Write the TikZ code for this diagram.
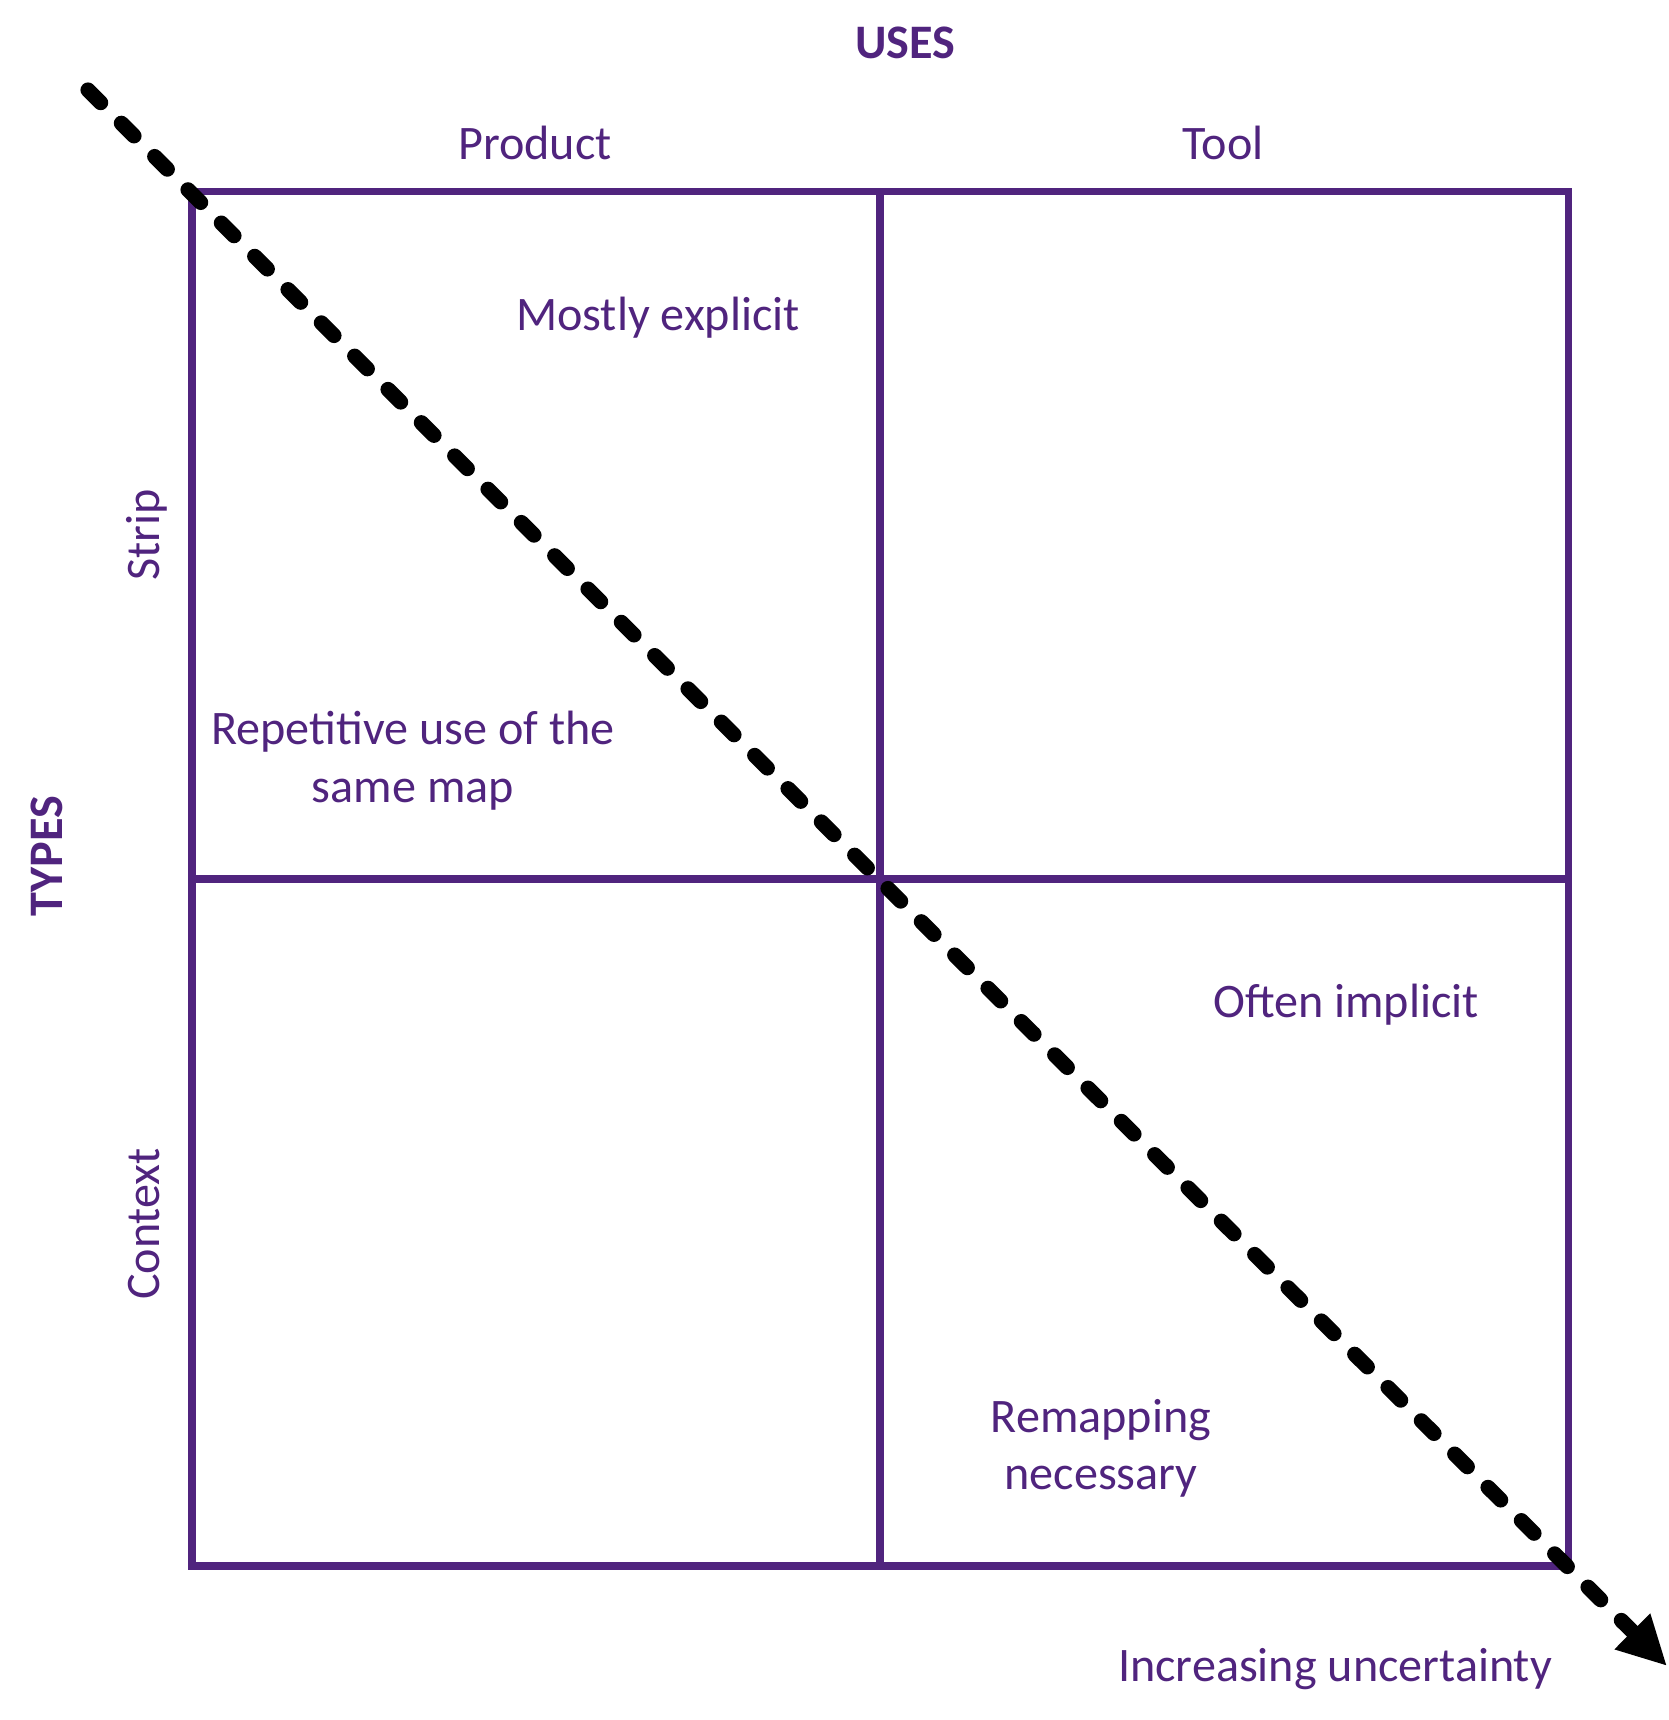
\documentclass[tikz,border=0pt]{standalone}
\usepackage{fontspec}
\setmainfont{Carlito}
\usepackage{xcolor}
\usepackage{tikz}
\usetikzlibrary{arrows.meta, positioning}
\definecolor{uviolet}{RGB}{80,36,126}

\begin{document}
\begin{tikzpicture}[
  cell/.style={draw=uviolet, line width=2pt, minimum width=6.88cm, minimum height=6.87cm, inner sep=0pt},
  lbl/.style={text=uviolet, font=\fontsize{13.7}{16.5}\selectfont, anchor=base, inner sep=0pt, align=center},
  head/.style={lbl, font=\fontsize{13.7}{16.5}\selectfont\bfseries},
  side/.style={lbl, rotate=90},
  uncert/.style={-{Triangle[length=4.9mm, width=4.7mm]}, line width=4.3pt, line cap=round, dash pattern=on 5.1pt off 8.3pt}
]
\useasboundingbox (0,0) rectangle (16.68,17.20);
% quadrants
\node[cell] (prodstrip) at (5.36,11.845) {};
\node[cell] (toolstrip) at (12.24,11.845) {};
\node[cell] (prodctx) at (5.36,4.975) {};
\node[cell] (toolctx) at (12.24,4.975) {};
% axis labels
\node[head] (uses) at (9.05,16.61) {USES};
\node[lbl] (product) at (5.35,15.60) {Product};
\node[lbl] (tool) at (12.23,15.60) {Tool};
\node[head, rotate=90] (types) at (0.62,8.64) {TYPES};
\node[side] (strip) at (1.59,11.85) {Strip};
\node[side] (context) at (1.59,4.96) {Context};
% cell texts
\node[lbl] (explicit) at (6.58,13.89) {Mostly explicit};
\node[lbl] (repeat) at (4.13,9.17) {Repetitive use of the\\same map};
\node[lbl] (implicit) at (13.46,7.02) {Often implicit};
\node[lbl] (remap) at (11.01,2.30) {Remapping\\necessary};
\node[lbl] (increase) at (13.35,0.39) {Increasing uncertainty};
% uncertainty arrow
\coordinate (from) at (0.88,16.30);
\coordinate (to) at (16.67,0.54);
\draw[uncert] (from) -- (to);
\end{tikzpicture}
\end{document}
